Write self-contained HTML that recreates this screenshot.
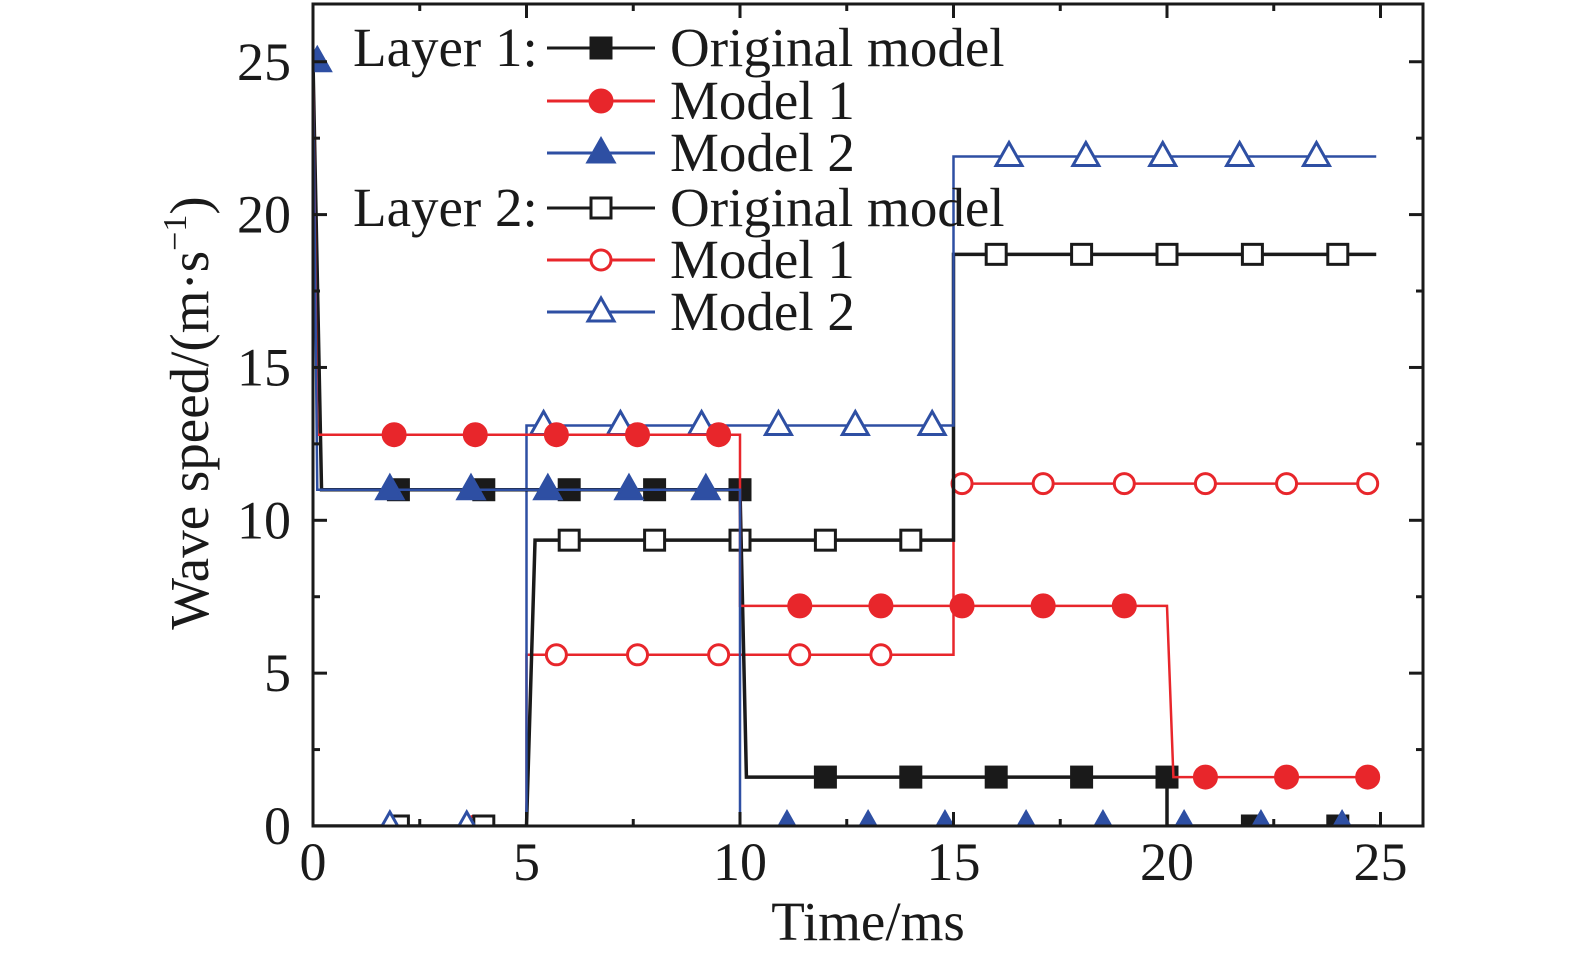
<!DOCTYPE html>
<html><head><meta charset="utf-8"><style>
html,body{margin:0;padding:0;background:#fff;}
svg{display:block;font-family:"Liberation Serif",serif;}
</style></head><body>
<svg id="chart" width="1575" height="964" viewBox="0 0 1575 964" xmlns="http://www.w3.org/2000/svg">
<defs><clipPath id="plotclip"><rect x="313" y="4" width="1110" height="822"/></clipPath></defs>
<g id="series" clip-path="url(#plotclip)"></g>
<rect x="313" y="4" width="1110" height="822" fill="none" stroke="#1a1a1a" stroke-width="3"/>
<g id="axes"></g>
<text x="868" y="940" font-size="55" text-anchor="middle" fill="#1a1a1a">Time/ms</text>
<text transform="translate(208,413) rotate(-90)" font-size="55" text-anchor="middle" fill="#1a1a1a">Wave speed/(m·s<tspan dy="-22" font-size="34">−1</tspan><tspan dy="22">)</tspan></text>
<g id="legend"></g>
</svg>
<script>
const xTicks=[0,5,10,15,20,25];
const yTicks=[0,5,10,15,20,25];
const l1OrigPts=[[0,25],[0.2,11],[10,11],[10.15,1.6],[20,1.6],[20,0],[24.9,0]];
const l1OrigMk=[[2,11],[4,11],[6,11],[8,11],[10,11],[12,1.6],[14,1.6],[16,1.6],[18,1.6],[20,1.6],[22,0],[24,0]];
const l1M1Pts=[[0,25],[0.1,12.8],[10,12.8],[10,7.2],[20,7.2],[20.15,1.6],[24.9,1.6]];
const l1M1Mk=[[1.9,12.8],[3.8,12.8],[5.7,12.8],[7.6,12.8],[9.5,12.8],[11.4,7.2],[13.3,7.2],[15.2,7.2],[17.1,7.2],[19,7.2],[20.9,1.6],[22.8,1.6],[24.7,1.6]];
const l1M2Pts=[[0,25],[0.1,11],[10,11],[10,0],[24.9,0]];
const l1M2Mk=[[0.1,25],[1.8,11],[3.7,11],[5.5,11],[7.4,11],[9.2,11],[11.1,0],[13,0],[14.8,0],[16.7,0],[18.5,0],[20.4,0],[22.2,0],[24.1,0]];
const l2OrigPts=[[0,0],[5,0],[5.2,9.35],[15,9.35],[15,18.7],[24.9,18.7]];
const l2OrigMk=[[2,0],[4,0],[6,9.35],[8,9.35],[10,9.35],[12,9.35],[14,9.35],[16,18.7],[18,18.7],[20,18.7],[22,18.7],[24,18.7]];
const l2M1Pts=[[0,0],[5,0],[5,5.6],[15,5.6],[15,11.2],[24.9,11.2]];
const l2M1Mk=[[1.9,0],[3.8,0],[5.7,5.6],[7.6,5.6],[9.5,5.6],[11.4,5.6],[13.3,5.6],[15.2,11.2],[17.1,11.2],[19,11.2],[20.9,11.2],[22.8,11.2],[24.7,11.2]];
const l2M2Pts=[[0,0],[5,0],[5,13.1],[15,13.1],[15,21.9],[24.9,21.9]];
const l2M2Mk=[[1.8,0],[3.6,0],[5.4,13.1],[7.2,13.1],[9.1,13.1],[10.9,13.1],[12.7,13.1],[14.5,13.1],[16.3,21.9],[18.1,21.9],[19.9,21.9],[21.7,21.9],[23.5,21.9]];

const X=t=>313+t*42.7, Y=v=>826-v*30.57;
const NS="http://www.w3.org/2000/svg";
const K="#1a1a1a",R="#e8262b",B="#2e4fa3";
function mk(tag,attrs,parent){const e=document.createElementNS(NS,tag);for(const k in attrs)e.setAttribute(k,attrs[k]);parent.appendChild(e);return e;}
function marker(g,shape,filled,col,cx,cy){
  let e;
  const fill=filled?col:"#fff";
  if(shape==="sq") e=mk("rect",{x:cx-10,y:cy-10,width:20,height:20,fill:fill,stroke:col,"stroke-width":3},g);
  else if(shape==="ci") e=mk("circle",{cx:cx,cy:cy,r:filled?11:10,fill:fill,stroke:col,"stroke-width":3},g);
  else e=mk("polygon",{points:`${cx},${cy-14} ${cx+13},${cy+9} ${cx-13},${cy+9}`,fill:fill,stroke:col,"stroke-width":3},g);
  return e;
}
const sg=document.getElementById("series");
const series=[
 ["layer2-model1",l2M1Pts,l2M1Mk,"ci",false,R],
 ["layer2-original",l2OrigPts,l2OrigMk,"sq",false,K],
 ["layer2-model2",l2M2Pts,l2M2Mk,"tr",false,B],
 ["layer1-original",l1OrigPts,l1OrigMk,"sq",true,K],
 ["layer1-model1",l1M1Pts,l1M1Mk,"ci",true,R],
 ["layer1-model2",l1M2Pts,l1M2Mk,"tr",true,B]
];
series.forEach(s=>{
  const g=mk("g",{},sg);
  
  
  const p=mk("polyline",{points:s[1].map(d=>X(d[0])+","+Y(d[1])).join(" "),fill:"none",stroke:s[5],"stroke-width":s[5]===K?3.5:2.5},g);
  
  
  s[2].forEach(d=>{
    const m=marker(g,s[3],s[4],s[5],X(d[0]),Y(d[1]));
    
    
  });
});
const ag=document.getElementById("axes");
xTicks.forEach(t=>{
  const x=X(t);
  mk("line",{x1:x,y1:826,x2:x,y2:812,stroke:K,"stroke-width":3},ag);
  mk("line",{x1:x,y1:4,x2:x,y2:18,stroke:K,"stroke-width":3},ag);
  if(t<25){const xm=X(t+2.5);
    mk("line",{x1:xm,y1:826,x2:xm,y2:819,stroke:K,"stroke-width":3},ag);
    mk("line",{x1:xm,y1:4,x2:xm,y2:11,stroke:K,"stroke-width":3},ag);}
  const tx=mk("text",{x:x,y:880,"font-size":54,"text-anchor":"middle",fill:K},ag);
  tx.textContent=t;
  
  
});
yTicks.forEach(v=>{
  const y=Y(v);
  mk("line",{x1:313,y1:y,x2:327,y2:y,stroke:K,"stroke-width":3},ag);
  mk("line",{x1:1423,y1:y,x2:1409,y2:y,stroke:K,"stroke-width":3},ag);
  if(v<25){const ym=Y(v+2.5);
    mk("line",{x1:313,y1:ym,x2:320,y2:ym,stroke:K,"stroke-width":3},ag);
    mk("line",{x1:1423,y1:ym,x2:1416,y2:ym,stroke:K,"stroke-width":3},ag);}
  const tx=mk("text",{x:291,y:y+18,"font-size":54,"text-anchor":"end",fill:K},ag);
  tx.textContent=v;
  
  
});
const lg=document.getElementById("legend");
const legendRows=[["Original model","sq",true,K],["Model 1","ci",true,R],["Model 2","tr",true,B],["Original model","sq",false,K],["Model 1","ci",false,R],["Model 2","tr",false,B]];
const rowY=[48,101,153,208,260,312];
legendRows.forEach((r,i)=>{
  const g=mk("g",{},lg);
  
  
  const y=rowY[i];
  mk("line",{x1:547,y1:y,x2:655,y2:y,stroke:r[3],"stroke-width":3},g);
  marker(g,r[1],r[2],r[3],601,y);
  const t=mk("text",{x:670,y:y+18,"font-size":55,fill:K},g);
  t.textContent=r[0];
});
[["Layer 1:",48],["Layer 2:",208]].forEach(a=>{
  const t=mk("text",{x:353,y:a[1]+18,"font-size":55,fill:K},lg);
  t.textContent=a[0];
  
  
});
</script>
</body></html>
